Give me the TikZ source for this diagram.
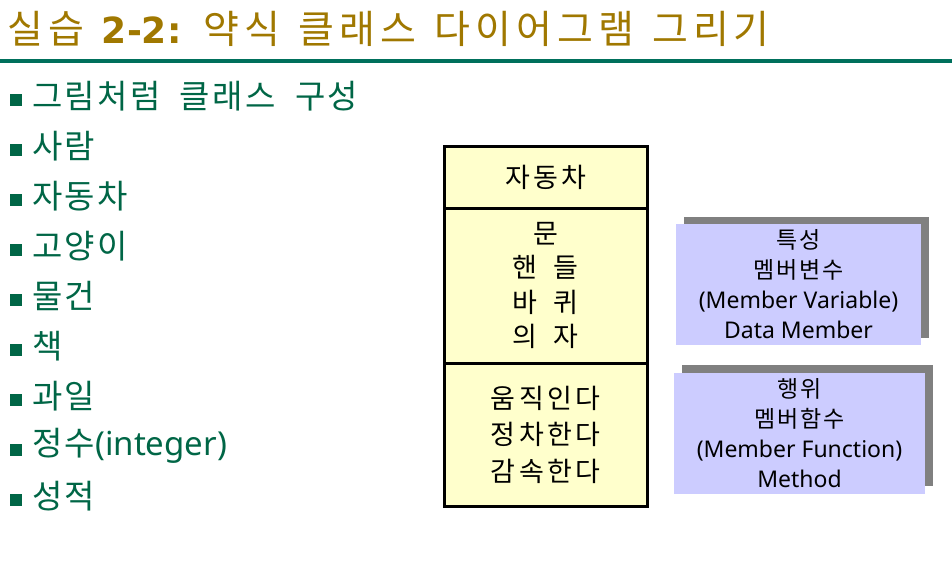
\documentclass[tikz,border=0pt]{standalone}
\usepackage{fontspec}
\setmainfont{Noto Sans}
\newfontfamily\kr[WordSpace=2.0, LetterSpace=7]{Noto Sans CJK KR}
\newfontfamily\krtitle[WordSpace=1.3, LetterSpace=13]{Noto Sans CJK KR}
\newfontfamily\krcls[WordSpace=1.8, LetterSpace=12]{Noto Sans CJK KR}
\newfontfamily\latbold{DejaVu Sans}
\usetikzlibrary{positioning,shadows}

\definecolor{titlegold}{RGB}{160,120,0}
\definecolor{rulegreen}{RGB}{0,112,92}
\definecolor{itemgreen}{RGB}{0,102,70}
\definecolor{classfill}{RGB}{255,255,204}
\definecolor{notefill}{RGB}{204,204,255}
\definecolor{noteshadow}{RGB}{128,128,128}

\tikzset{
    compart/.style={draw, line width=3pt, fill=classfill, minimum width=203pt,
        outer sep=0pt, inner sep=0pt, align=center},
    notebox/.style={fill=notefill, minimum height=121pt, inner sep=0pt, align=center,
        font=\fontsize{23}{30}\selectfont,
        drop shadow={shadow xshift=8pt, shadow yshift=7.5pt, fill=noteshadow, opacity=1}},
    bulletsq/.style={fill=itemgreen, minimum size=12pt, inner sep=0pt},
    itemtext/.style={anchor=west, inner sep=0pt, text=itemgreen,
        font=\fontsize{33}{40}\selectfont},
}

\begin{document}
\begin{tikzpicture}[x=1pt, y=-1pt]
    \path[use as bounding box, fill=white] (0,0) rectangle (952,560);

    % title and rule
    \node[anchor=west, inner sep=0pt, text=titlegold, font=\fontsize{39}{44}\selectfont]
        (title) at (7,29) {\krtitle 실습 {\latbold\bfseries\fontsize{36}{44}\selectfont 2-2:} 약식 클래스 다이어그램 그리기};
    \draw[rulegreen, line width=4pt] (0,61) -- (952,61);

    % item list
    \foreach \i/\lab in {0/{\kr 그림처럼 클래스 구성},1/{\kr 사람},2/{\kr 자동차},3/{\kr 고양이},
        4/{\kr 물건},5/{\kr 책},6/{\kr 과일},7/{{\kr 정수}(integer)},8/{\kr 성적}} {
        \node[bulletsq] (bul\i) at (16,99.5+50*\i) {};
        \node[itemtext] (item\i) at (32,96+50*\i) {\lab};
    }

    % class box
    \node[compart, minimum height=62pt, font=\krcls\fontsize{27}{30}\selectfont]
        (clsname) at (545.5,177) {자동차};
    \node[compart, minimum height=155pt, below=0pt of clsname,
        font=\krcls\fontsize{27}{34.5}\selectfont] (clsattr) {문\\핸 들\\바 퀴\\의 자};
    \node[compart, minimum height=143pt, below=0pt of clsattr,
        font=\krcls\fontsize{27}{36.5}\selectfont] (clsops) {움직인다\\정차한다\\감속한다};

    % notes
    \node[notebox, minimum width=245pt] (attrnote) at (798.5,284.5)
        {{\kr 특성}\\{\kr 멤버변수}\\(Member Variable)\\Data Member};
    \node[notebox, minimum width=251pt] (opnote) at (799.5,433)
        {{\kr 행위}\\{\kr 멤버함수}\\(Member Function)\\Method};
\end{tikzpicture}
\end{document}
